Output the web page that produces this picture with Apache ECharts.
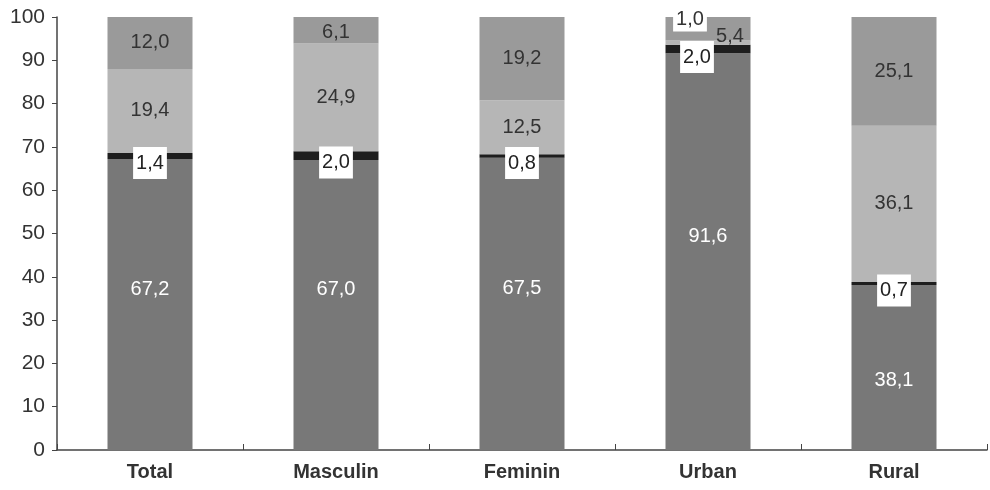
<!DOCTYPE html>
<html><head><meta charset="utf-8">
<script src="https://cdn.jsdelivr.net/npm/echarts@6/dist/echarts.min.js"></script>
<style>html,body{margin:0;padding:0;background:#fff}#c{width:990px;height:490px}</style>
</head><body><div id="c"></div>
<script>
const categories = ['Total', 'Masculin', 'Feminin', 'Urban', 'Rural'];
const seriesBottom = [67.2, 67.0, 67.5, 91.6, 38.1];
const seriesBlack = [1.4, 2.0, 0.8, 2.0, 0.7];
const seriesLight = [19.4, 24.9, 12.5, 1.0, 36.1];
const seriesTop = [12.0, 6.1, 19.2, 5.4, 25.1];

const FONT = '"Liberation Sans", Arial, sans-serif';
const fmt = v => v.toFixed(1).replace('.', ',');

const bottomOffsets = [[0,-15],[0,-15],[0,-15],[0,-15],[0,13]];
const blackOffsets = [[0,7],[0,7],[0,7],[-11,8],[0,7]];
const lightOffsets = [[0,0],[0,0],[0,0],[-18,-23],[0,0]];
const topOffsets = [[0,0],[0,2],[0,0],[22,8],[0,0]];

function mk(vals, offsets) {
  return vals.map((v, i) => ({ value: v, label: { offset: offsets[i] } }));
}

const chart = echarts.init(document.getElementById('c'));
chart.setOption({
  animation: false,
  grid: { left: 57, right: 3, top: 17, bottom: 40, containLabel: false },
  xAxis: {
    type: 'category', data: categories,
    axisLine: { lineStyle: { color: '#444', width: 1.5 } },
    axisTick: { show: true, inside: true, length: 6, lineStyle: { color: '#444' } },
    axisLabel: { fontFamily: FONT, fontSize: 20, fontWeight: 'bold', color: '#333', margin: 12 }
  },
  yAxis: {
    type: 'value', min: 0, max: 100, interval: 10,
    axisLine: { show: true, lineStyle: { color: '#444', width: 1.5 } },
    axisTick: { show: true, length: 5, lineStyle: { color: '#444' } },
    splitLine: { show: false },
    axisLabel: { fontFamily: FONT, fontSize: 21, color: '#333', margin: 12 }
  },
  series: [
    { type: 'bar', stack: 's', barWidth: 85, itemStyle: { color: '#787878' },
      data: mk(seriesBottom, bottomOffsets),
      label: { show: true, position: 'inside', color: '#fff', fontFamily: FONT, fontSize: 20, formatter: p => fmt(p.value) } },
    { type: 'bar', stack: 's', barWidth: 85, itemStyle: { color: '#1e1e1e' },
      data: mk(seriesBlack, blackOffsets),
      label: { show: true, position: 'inside', color: '#222', backgroundColor: '#fff', padding: [7, 3, 5, 3],
        fontFamily: FONT, fontSize: 20, formatter: p => fmt(p.value) } },
    { type: 'bar', stack: 's', barWidth: 85, itemStyle: { color: '#b6b6b6' },
      data: seriesLight.map((v, i) => ({ value: v, label: i === 3 ? { offset: lightOffsets[i], backgroundColor: '#fff', padding: [3, 3, 1, 3] } : { offset: lightOffsets[i] } })),
      label: { show: true, position: 'inside', color: '#333', fontFamily: FONT, fontSize: 20, formatter: p => fmt(p.value) } },
    { type: 'bar', stack: 's', barWidth: 85, itemStyle: { color: '#9a9a9a' },
      data: mk(seriesTop, topOffsets),
      label: { show: true, position: 'inside', color: '#333', fontFamily: FONT, fontSize: 20, formatter: p => fmt(p.value) } }
  ]
});
</script></body></html>
